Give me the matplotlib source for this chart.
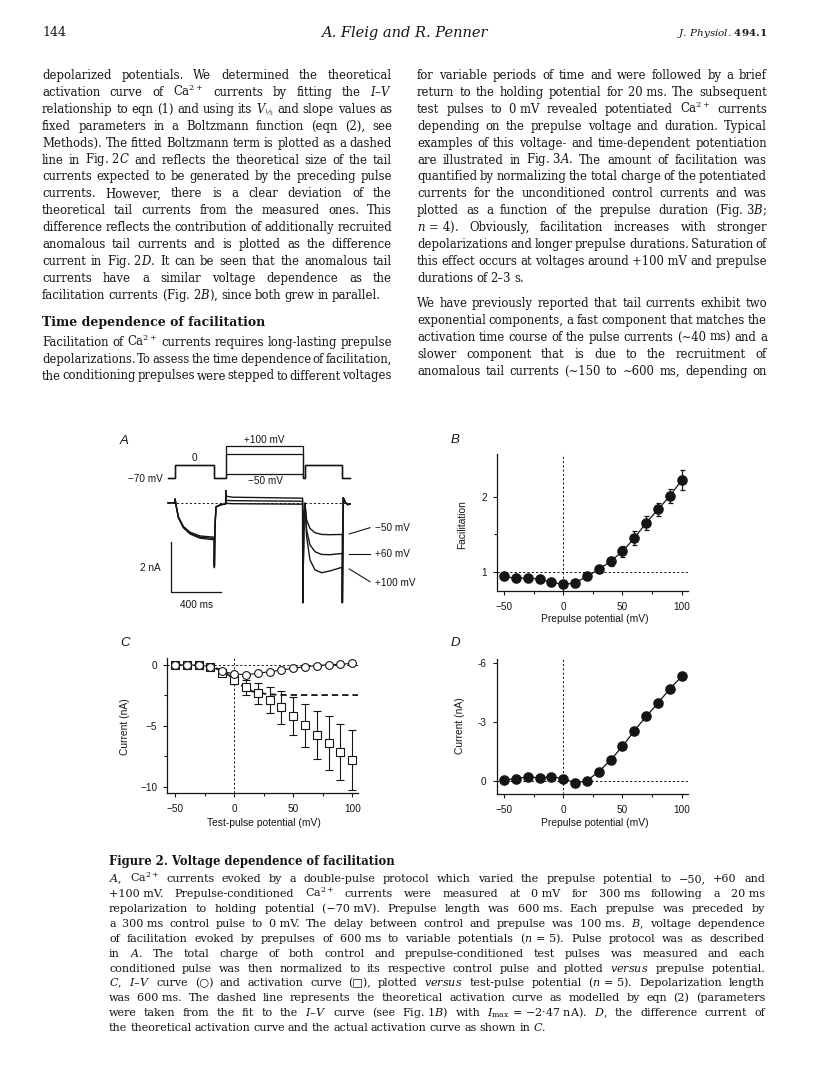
import numpy as np
import matplotlib
matplotlib.use("Agg")
import matplotlib.pyplot as plt

plt.rcParams['mathtext.fontset'] = 'dejavuserif'

SERIF = ['DejaVu Serif', 'DejaVu Sans']
SANS = ['Liberation Sans', 'DejaVu Sans']
INK = '#151515'

# ----------------------------
# Data
# ----------------------------
volts = [-50, -40, -30, -20, -10, 0, 10, 20, 30, 40, 50, 60, 70, 80, 90, 100]

# B: facilitation vs prepulse potential
facil = [0.94, 0.91, 0.92, 0.90, 0.86, 0.83, 0.85, 0.94, 1.03, 1.14, 1.27, 1.45, 1.65, 1.83, 2.01, 2.22]
facil_err = [0.03, 0.03, 0.03, 0.03, 0.03, 0.03, 0.03, 0.03, 0.04, 0.06, 0.07, 0.09, 0.09, 0.09, 0.09, 0.13]

# C: I-V curve (circles) and activation curve (squares)
iv_curr = [0.0, 0.0, 0.0, -0.14, -0.50, -0.74, -0.80, -0.69, -0.55, -0.41, -0.27, -0.14, -0.05, 0.03, 0.05, 0.14]
act_curr = [0.0, 0.0, -0.03, -0.19, -0.66, -1.24, -1.84, -2.34, -2.88, -3.49, -4.20, -4.97, -5.74, -6.40, -7.12, -7.83]
act_err = [0.02, 0.02, 0.03, 0.05, 0.15, 0.35, 0.62, 0.88, 1.10, 1.38, 1.55, 1.80, 2.00, 2.20, 2.30, 2.47]
boltz_v = [-50, -40, -30, -20, -10, -5, 0, 5, 10, 15, 20, 30, 40, 60, 80, 105]
boltz_i = [0.0, 0.0, -0.02, -0.10, -0.45, -0.80, -1.20, -1.60, -1.92, -2.15, -2.28, -2.41, -2.46, -2.47, -2.47, -2.47]

# D: difference current
diff_curr = [-0.03, -0.10, -0.19, -0.14, -0.20, -0.10, 0.12, 0.0, -0.46, -1.05, -1.75, -2.54, -3.27, -3.95, -4.68, -5.30]

# A: pulse protocol (ms, mV) and current traces (ms, nA)
prepulse_mv = [-50, 60, 100]
step_edges = [0, 56, 370, 462, 1078, 1096, 1394, 1456]
trace_t = [0, 56, 57, 64, 83, 123, 176, 256, 370, 371, 376, 384, 420, 461, 462, 463, 475, 520,
           800, 1077, 1078, 1088, 1096, 1109, 1136, 1176, 1229, 1296, 1394, 1395, 1402, 1420, 1440, 1456]
trace_m50 = [0, 0, 0.15, -0.09, -0.56, -0.95, -1.18, -1.33, -1.38, -2.50, -0.90, -0.16, -0.08, -0.05, 0.10, -0.02, -0.03, -0.04,
             -0.05, -0.06, -4.0, -0.6, -0.02, -0.69, -1.03, -1.20, -1.27, -1.28, -1.27, -4.0, 0.2, 0.0, -0.08, -0.05]
trace_p60 = [0, 0, 0.15, -0.09, -0.58, -0.98, -1.22, -1.38, -1.43, -2.55, -0.95, -0.17, -0.08, -0.05, 0.30, 0.10, 0.09, 0.08,
             0.07, 0.06, -4.0, -0.6, -0.02, -1.09, -1.69, -1.96, -2.07, -2.08, -2.03, -4.0, 0.2, 0.0, -0.08, -0.05]
trace_p100 = [0, 0, 0.15, -0.09, -0.60, -1.00, -1.25, -1.42, -1.48, -2.60, -1.00, -0.18, -0.09, -0.05, 0.55, 0.30, 0.25, 0.22,
              0.20, 0.18, -4.0, -0.6, -0.02, -1.36, -2.29, -2.69, -2.80, -2.73, -2.58, -4.0, 0.2, 0.0, -0.08, -0.05]

# ----------------------------
# Page text
# ----------------------------
left_p1 = [
    "depolarized potentials. We determined the theoretical",
    "activation curve of Ca$^{2+}$ currents by fitting the $I$–$V$",
    "relationship to eqn (1) and using its $V_{½}$ and slope values as",
    "fixed parameters in a Boltzmann function (eqn (2), see",
    "Methods). The fitted Boltzmann term is plotted as a dashed",
    "line in Fig.\u00a02$C$ and reflects the theoretical size of the tail",
    "currents expected to be generated by the preceding pulse",
    "currents. However, there is a clear deviation of the",
    "theoretical tail currents from the measured ones. This",
    "difference reflects the contribution of additionally recruited",
    "anomalous tail currents and is plotted as the difference",
    "current in Fig.\u00a02$D$. It can be seen that the anomalous tail",
    "currents have a similar voltage dependence as the",
    "facilitation currents (Fig.\u00a02$B$), since both grew in parallel.",
]
left_head = "Time dependence of facilitation"
left_p2 = [
    "Facilitation of Ca$^{2+}$ currents requires long-lasting prepulse",
    "depolarizations. To assess the time dependence of facilitation,",
    "the conditioning prepulses were stepped to different voltages",
]
right_p1 = [
    "for variable periods of time and were followed by a brief",
    "return to the holding potential for 20\u00a0ms. The subsequent",
    "test pulses to 0\u00a0mV revealed potentiated Ca$^{2+}$ currents",
    "depending on the prepulse voltage and duration. Typical",
    "examples of this voltage- and time-dependent potentiation",
    "are illustrated in Fig.\u00a03$A$. The amount of facilitation was",
    "quantified by normalizing the total charge of the potentiated",
    "currents for the unconditioned control currents and was",
    "plotted as a function of the prepulse duration (Fig.\u00a03$B$;",
    "$n\\,=\\,4$). Obviously, facilitation increases with stronger",
    "depolarizations and longer prepulse durations. Saturation of",
    "this effect occurs at voltages around +100\u00a0mV and prepulse",
    "durations of 2–3 s.",
]
right_p2 = [
    "We have previously reported that tail currents exhibit two",
    "exponential components, a fast component that matches the",
    "activation time course of the pulse currents (∼40 ms) and a",
    "slower component that is due to the recruitment of",
    "anomalous tail currents (∼150 to ∼600 ms, depending on",
]
caption_head = "Figure 2. Voltage dependence of facilitation"
caption = [
    "$A$, Ca$^{2+}$ currents evoked by a double-pulse protocol which varied the prepulse potential to −50, +60 and",
    "+100\u00a0mV. Prepulse-conditioned Ca$^{2+}$ currents were measured at 0\u00a0mV for 300\u00a0ms following a 20\u00a0ms",
    "repolarization to holding potential (−70\u00a0mV). Prepulse length was 600\u00a0ms. Each prepulse was preceded by",
    "a 300\u00a0ms control pulse to 0\u00a0mV. The delay between control and prepulse was 100\u00a0ms. $B$, voltage dependence",
    "of facilitation evoked by prepulses of 600\u00a0ms to variable potentials ($n\\,=\\,5$). Pulse protocol was as described",
    "in $A$. The total charge of both control and prepulse-conditioned test pulses was measured and each",
    "conditioned pulse was then normalized to its respective control pulse and plotted $versus$ prepulse potential.",
    "$C$, $I$–$V$ curve (○) and activation curve (□), plotted $versus$ test-pulse potential ($n\\,=\\,5$). Depolarization length",
    "was 600\u00a0ms. The dashed line represents the theoretical activation curve as modelled by eqn (2) (parameters",
    "were taken from the fit to the $I$–$V$ curve (see Fig.\u00a01$B$) with $I_{\\mathrm{max}}\\,=\\,$−2·47\u00a0nA). $D$, the difference current of",
    "the theoretical activation curve and the actual activation curve as shown in $C$.",
]

# ----------------------------
# Figure and page layer (pixel coordinates)
# ----------------------------
W, H = 816, 1088
fig = plt.figure(figsize=(W / 100, H / 100), dpi=100)
page = fig.add_axes([0, 0, 1, 1])
page.set_xlim(0, W)
page.set_ylim(H, 0)
page.axis("off")
renderer = fig.canvas.get_renderer()


def px_axes(x0, y0, x1, y1):
    return fig.add_axes([x0 / W, 1 - y1 / H, (x1 - x0) / W, (y1 - y0) / H])


def put_line(text, x0, x1, y, size, justify=True, **kw):
    words = text.split(" ")
    arts = [page.text(0, y + 4, w, fontsize=size, va="baseline", ha="left",
                      family=SERIF, color=INK, **kw) for w in words]
    widths = [a.get_window_extent(renderer).width for a in arts]
    space = size * 0.27 * 100 / 72
    room = x1 - x0 - 0.55 * space * (len(words) - 1)
    if sum(widths) > room:
        # too long for the column: shrink this line a little
        size = size * room / sum(widths)
        for a in arts:
            a.set_fontsize(size)
        widths = [a.get_window_extent(renderer).width for a in arts]
        space = size * 0.27 * 100 / 72
    gap = space
    if justify and len(words) > 1:
        gap = (x1 - x0 - sum(widths)) / (len(words) - 1)
    x = x0
    for a, w in zip(arts, widths):
        a.set_x(x)
        x += w + gap


def put_par(lines, x0, x1, y0, lead, size, last_just=False):
    for i, ln in enumerate(lines):
        put_line(ln, x0, x1, y0 + i * lead, size,
                 justify=(i < len(lines) - 1) or last_just)


# running header
page.text(42, 33, "144", fontsize=9, family=SERIF, color=INK, va="center")
page.text(404, 33, "A. Fleig and R. Penner", fontsize=10.5, style="italic",
          family=SERIF, color=INK, va="center", ha="center")
page.text(767, 33, r"J. Physiol. $\mathbf{494.1}$", fontsize=7.5, style="italic",
          family=SERIF, color=INK, va="center", ha="right")

BODY = 8.4
LEAD = 16.9
put_par(left_p1, 42, 392, 75, LEAD, BODY)
page.text(42, 321.7 + 4.5, left_head, fontsize=9.0, weight="bold", family=SERIF,
          color=INK, va="baseline")
put_par(left_p2, 42, 392, 341.7, LEAD, BODY, last_just=True)
put_par(right_p1, 417, 767, 75, LEAD, BODY)
put_par(right_p2, 417, 767, 303, LEAD, BODY, last_just=True)

CAP = 8.0
page.text(109, 861 + 4.5, caption_head, fontsize=8.4, weight="bold", family=SERIF,
          color=INK, va="baseline")
put_par(caption, 109, 765, 878.5, 14.85, CAP)

# panel letters
for lab, x, y in [("A", 124, 441), ("B", 455, 440), ("C", 125, 643), ("D", 455, 643)]:
    page.text(x, y, lab, fontsize=9.5, style="italic", family=SANS, color=INK,
              ha="center", va="center")

TICK = 7.2
LAB = 7.4


def style_axes(ax):
    for s in ("top", "right"):
        ax.spines[s].set_visible(False)
    for s in ("left", "bottom"):
        ax.spines[s].set_linewidth(0.9)
        ax.spines[s].set_color(INK)
    ax.tick_params(which="both", direction="out", width=0.8, colors=INK,
                   labelsize=TICK)
    ax.tick_params(which="major", length=3.0)
    ax.tick_params(which="minor", length=2.2)
    ax.tick_params(axis="x", pad=5.0)
    ax.tick_params(axis="y", pad=4.2)
    for t in ax.get_xticklabels() + ax.get_yticklabels():
        t.set_family(SANS)
    ax.set_facecolor("none")


def labels(ax, xl, yl, xlc, ylc):
    ax.set_xlabel(xl, fontsize=LAB, family=SANS, color=INK, va="center")
    ax.set_ylabel(yl, fontsize=LAB, family=SANS, color=INK, va="center")
    ax.xaxis.set_label_coords(*xlc)
    ax.yaxis.set_label_coords(*ylc)


DASH = (0, (2.2, 2.2))

# ----------------------------
# Panel B
# ----------------------------
axB = px_axes(496.7, 454.3, 688, 591)
axB.axhline(1, ls=DASH, lw=0.7, color=INK)
axB.axvline(0, ls=DASH, lw=0.7, color=INK)
axB.errorbar(volts, facil, yerr=facil_err, fmt="-o", color=INK, ms=6.6, lw=0.9,
             elinewidth=0.9, capsize=1.8, capthick=0.9, zorder=3)
axB.set_xlim(-56.2, 105.3)
axB.set_ylim(0.743, 2.565)
axB.set_xticks([-50, 0, 50, 100])
axB.set_xticks([-25, 25, 75], minor=True)
axB.set_yticks([1, 2])
axB.set_yticks([1.5], minor=True)
style_axes(axB)
labels(axB, "Prepulse potential (mV)", "Facilitation", (0.514, -0.205), (-0.181, 0.483))

# ----------------------------
# Panel C
# ----------------------------
axC = px_axes(167.3, 658.3, 358.3, 793.3)
axC.axhline(0, ls=DASH, lw=0.7, color=INK)
axC.axvline(0, ls=DASH, lw=0.7, color=INK)
axC.plot(boltz_v, boltz_i, ls=(0, (3.5, 2.2)), lw=1.3, color=INK, zorder=2)
axC.errorbar(volts, act_curr, yerr=act_err, fmt="s", mfc="white", mec=INK, ms=5.2,
             mew=0.8, ecolor=INK, elinewidth=0.8, capsize=2.8, capthick=0.8, zorder=3)
axC.plot(volts, iv_curr, "-o", color=INK, mfc="white", mec=INK, ms=5.6, mew=0.8,
         lw=0.8, zorder=4)
axC.set_xlim(-56.5, 105.1)
axC.set_ylim(-10.54, 0.55)
axC.set_xticks([-50, 0, 50, 100])
axC.set_xticks([-25, 25, 75], minor=True)
axC.set_yticks([-10, -5, 0])
axC.set_yticks([-7.5, -2.5], minor=True)
style_axes(axC)
labels(axC, "Test-pulse potential (mV)", "Current (nA)", (0.506, -0.22), (-0.221, 0.493))

# ----------------------------
# Panel D
# ----------------------------
axD = px_axes(496.7, 659, 688, 794)
axD.axhline(0, ls=DASH, lw=0.7, color=INK)
axD.axvline(0, ls=DASH, lw=0.7, color=INK)
axD.plot(volts, diff_curr, "-o", color=INK, ms=6.6, lw=0.9, zorder=3)
axD.set_xlim(-56.2, 105.3)
axD.set_ylim(0.68, -6.19)
axD.set_xticks([-50, 0, 50, 100])
axD.set_xticks([-25, 25, 75], minor=True)
axD.set_yticks([-6, -3, 0])
axD.set_yticklabels(["-6", "-3", "0"])
style_axes(axD)
labels(axD, "Prepulse potential (mV)", "Current (nA)", (0.514, -0.215), (-0.192, 0.506))

# ----------------------------
# Panel A: protocol and traces
# ----------------------------
axP = px_axes(130, 430, 420, 485)
axP.axis("off")
axP.set_xlim(-304, 2016)
axP.set_ylim(-108, 189)
st = np.repeat(step_edges, 2)[1:-1]
for vp in prepulse_mv:
    lv = [-70, 0, -70, vp, -70, 0, -70]
    axP.plot(st, np.repeat(lv, 2), color=INK, lw=0.9, solid_joinstyle="miter")
axP.text(-38, -77, "\u221270 mV", fontsize=TICK, family=SANS, color=INK, ha="right", va="center")
axP.text(210, 39, "0", fontsize=TICK, family=SANS, color=INK, ha="center", va="center")
axP.text(770, 135, "+100 mV", fontsize=TICK, family=SANS, color=INK, ha="center", va="center")
axP.text(776, -85, "\u221250 mV", fontsize=TICK, family=SANS, color=INK, ha="center", va="center")

axI = px_axes(130, 490, 420, 612)
axI.axis("off")
axI.set_xlim(-304, 2016)
axI.set_ylim(-4.372, 0.508)
axI.plot([0, 1456], [0, 0], ls=DASH, lw=0.7, color=INK)
for tr in (trace_m50, trace_p60, trace_p100):
    axI.plot(trace_t, tr, color=INK, lw=1.0)
# scale bars: 2 nA, 400 ms
axI.plot([22, 22, 422], [-1.56, -3.56, -3.56], color=INK, lw=0.9)
axI.text(-140, -2.6, "2 nA", fontsize=TICK, family=SANS, color=INK, ha="center", va="center")
axI.text(230, -4.09, "400 ms", fontsize=TICK, family=SANS, color=INK, ha="center", va="center")
# trace labels
for lab, y0, y1, yt in [("\u221250 mV", -1.25, -1.0, -1.0),
                        ("+60 mV", -2.05, -2.05, -2.05),
                        ("+100 mV", -2.65, -3.16, -3.22)]:
    axI.plot([1450, 1616], [y0, y1], color=INK, lw=0.8)
    axI.text(1656, yt, lab, fontsize=TICK, family=SANS, color=INK, ha="left", va="center")

fig.savefig("out.png", dpi=100)
